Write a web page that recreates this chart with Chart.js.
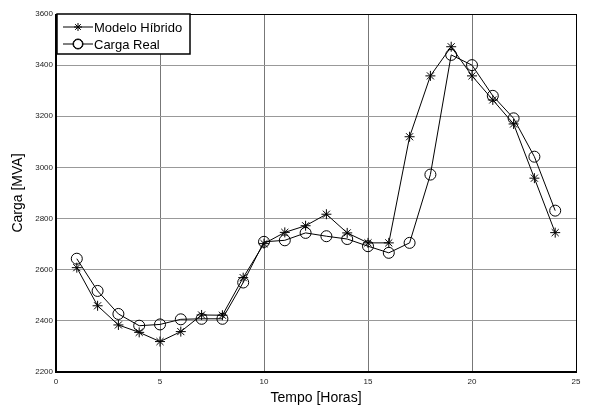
<!DOCTYPE html>
<html>
<head>
<meta charset="utf-8">
<script src="https://cdn.jsdelivr.net/npm/chart.js@4"></script>
<style>
  html, body { margin: 0; padding: 0; background: #fff; }
  #wrap { width: 589px; height: 407px; }
</style>
</head>
<body>
<div id="wrap"><canvas id="chart" width="589" height="407"></canvas></div>
<script>
// hours 1..24
const hours = [1, 2, 3, 4, 5, 6, 7, 8, 9, 10, 11, 12, 13, 14, 15, 16, 17, 18, 19, 20, 21, 22, 23, 24];
const modeloHibrido = [2608, 2459, 2384, 2355, 2319, 2358, 2423, 2422, 2569, 2702, 2746, 2772, 2817, 2744, 2705, 2705, 3120, 3358, 3472, 3358, 3264, 3170, 2958, 2745];
const cargaReal = [2643, 2517, 2427, 2381, 2386, 2406, 2408, 2408, 2550, 2709, 2715, 2744, 2731, 2720, 2692, 2666, 2705, 2972, 3440, 3400, 3280, 3192, 3042, 2831];
const xTicks = [0, 5, 10, 15, 20, 25];
const yTicks = [2200, 2400, 2600, 2800, 3000, 3200, 3400, 3600];

const FONT = 'Arial, "Liberation Sans", sans-serif';

function toPoints(values) {
    return hours.map((h, i) => ({ x: h, y: values[i] }));
}

// frame around the plot + legend box in the top-left corner
const frameAndLegend = {
    id: 'frameAndLegend',
    afterDraw(chart) {
        const ctx = chart.ctx;
        const a = chart.chartArea;
        ctx.save();
        ctx.strokeStyle = '#000';
        ctx.lineWidth = 1;
        ctx.strokeRect(a.left + 0.5, a.top + 0.5, a.right - a.left, a.bottom - a.top);
        ctx.lineWidth = 2;
        ctx.beginPath();
        ctx.moveTo(a.left, a.top);
        ctx.lineTo(a.left, a.bottom);
        ctx.lineTo(a.right, a.bottom);
        ctx.stroke();

        // legend
        const bx = a.left + 1, by = a.top, bw = 133, bh = 40;
        ctx.fillStyle = '#fff';
        ctx.fillRect(bx, by, bw, bh);
        ctx.lineWidth = 1.5;
        ctx.strokeRect(bx, by, bw, bh);
        const items = [
            { label: 'Modelo Híbrido', style: 'star', y: by + 13 },
            { label: 'Carga Real', style: 'circle', y: by + 30 }
        ];
        items.forEach(it => {
            ctx.strokeStyle = '#000';
            ctx.lineWidth = 1;
            ctx.beginPath();
            ctx.moveTo(bx + 6, it.y);
            ctx.lineTo(bx + 36, it.y);
            ctx.stroke();
            Chart.helpers.drawPoint(ctx, {
                pointStyle: it.style, radius: it.style === 'star' ? 4 : 5, borderWidth: 1
            }, bx + 21, it.y);
            if (it.style === 'circle') {
                ctx.fillStyle = '#fff';
                ctx.beginPath();
                ctx.arc(bx + 21, it.y, 4.5, 0, Math.PI * 2);
                ctx.fill();
                ctx.stroke();
            }
            ctx.fillStyle = '#000';
            ctx.font = '13px ' + FONT;
            ctx.textAlign = 'left';
            ctx.textBaseline = 'middle';
            ctx.fillText(it.label, bx + 37, it.y + 1);
        });
        ctx.restore();
    }
};

new Chart(document.getElementById('chart'), {
    type: 'line',
    data: {
        datasets: [{
            label: 'Modelo Híbrido',
            data: toPoints(modeloHibrido),
            borderColor: '#000',
            borderWidth: 1,
            pointStyle: 'star',
            pointRadius: 5,
            pointBorderWidth: 1,
            pointBorderColor: '#000',
            pointBackgroundColor: '#000',
            tension: 0,
            fill: false
        }, {
            label: 'Carga Real',
            data: toPoints(cargaReal),
            borderColor: '#000',
            borderWidth: 1,
            pointStyle: 'circle',
            pointRadius: 5.5,
            pointBorderWidth: 1,
            pointBorderColor: '#000',
            pointBackgroundColor: 'rgba(255,255,255,0)',
            tension: 0,
            fill: false
        }]
    },
    options: {
        responsive: false,
        animation: false,
        layout: { padding: { top: 14, right: 13, left: 0, bottom: 0 } },
        scales: {
            x: {
                type: 'linear',
                min: 0,
                max: 25,
                afterBuildTicks: s => { s.ticks = xTicks.map(v => ({ value: v })); },
                afterFit: s => { s.height = 35; },
                grid: { color: '#777', lineWidth: 1, drawTicks: false },
                border: { display: false },
                ticks: { color: '#222', font: { size: 8, family: FONT }, padding: 5, maxRotation: 0, callback: v => String(v) },
                title: { display: true, text: 'Tempo [Horas]', color: '#000', font: { size: 14, family: FONT }, padding: { top: 0, bottom: 0 } }
            },
            y: {
                min: 2200,
                max: 3600,
                afterBuildTicks: s => { s.ticks = yTicks.map(v => ({ value: v })); },
                afterFit: s => { s.width = 56; },
                grid: { color: '#999', lineWidth: 1, drawTicks: false },
                border: { display: false },
                ticks: { color: '#222', font: { size: 8, family: FONT }, padding: 3, callback: v => String(v) },
                title: { display: true, text: 'Carga [MVA]', color: '#000', font: { size: 14, family: FONT }, padding: { top: 10, bottom: 4 } }
            }
        },
        plugins: {
            legend: { display: false },
            tooltip: { enabled: false }
        }
    },
    plugins: [frameAndLegend]
});
</script>
</body>
</html>
